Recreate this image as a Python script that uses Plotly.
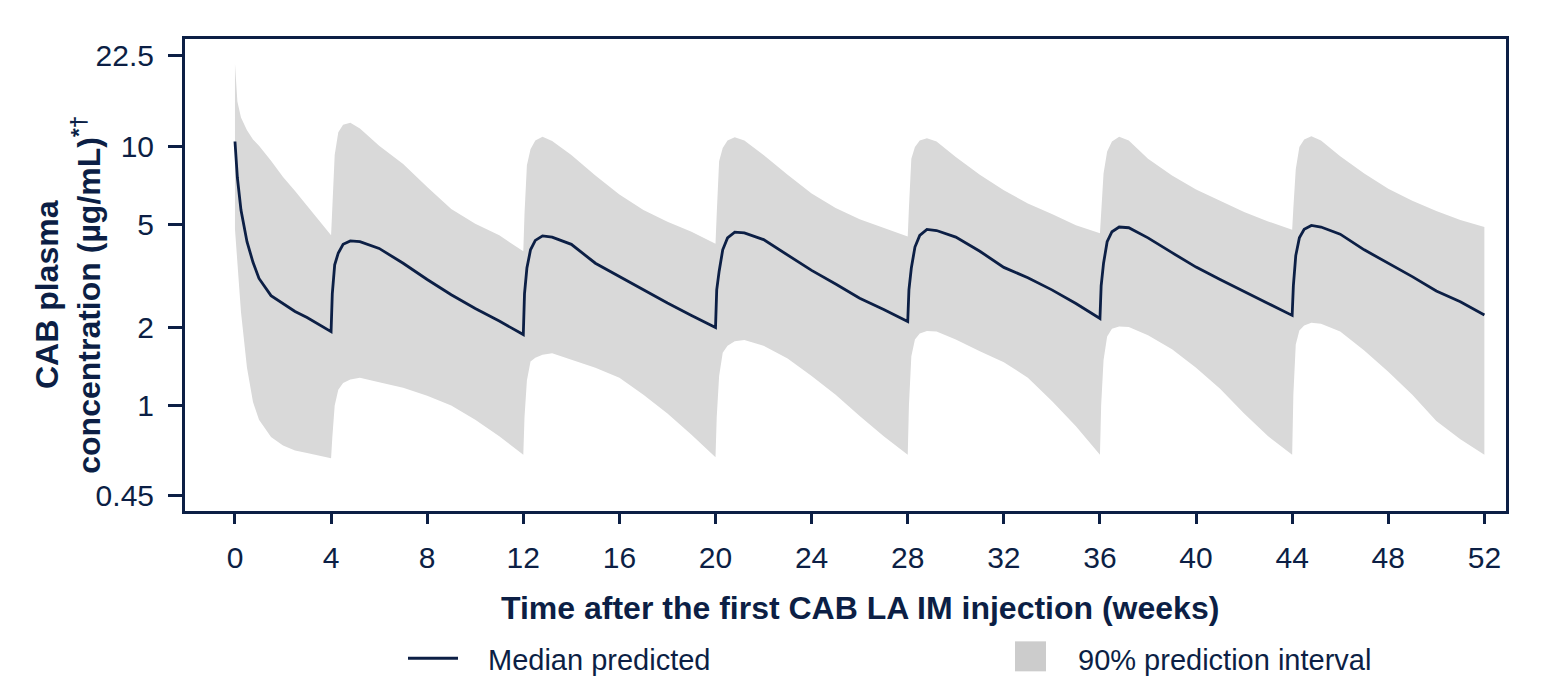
import plotly.graph_objects as go

# ---------------- data ----------------
weeks = [
    0, 0.1, 0.25, 0.5, 0.75, 1, 1.5, 2, 2.5, 3, 3.5, 4,
    4.05, 4.15, 4.3, 4.5, 4.8, 5.2, 6, 7, 8, 9, 10, 11, 12,
    12.05, 12.15, 12.3, 12.5, 12.8, 13.2, 14, 15, 16, 17, 18, 19, 20,
    20.05, 20.15, 20.3, 20.5, 20.8, 21.2, 22, 23, 24, 25, 26, 27, 28,
    28.05, 28.15, 28.3, 28.5, 28.8, 29.2, 30, 31, 32, 33, 34, 35, 36,
    36.05, 36.15, 36.3, 36.5, 36.8, 37.2, 38, 39, 40, 41, 42, 43, 44,
    44.05, 44.15, 44.3, 44.5, 44.8, 45.2, 46, 47, 48, 49, 50, 51, 52,
]

median_pred = [
    10.5, 7.6, 5.7, 4.3, 3.58, 3.1, 2.66, 2.48, 2.31, 2.19, 2.06, 1.93,
    2.7, 3.5, 3.89, 4.2, 4.33, 4.3, 4.05, 3.55, 3.07, 2.68, 2.37, 2.12, 1.88,
    2.7, 3.4, 4.0, 4.35, 4.53, 4.48, 4.2, 3.55, 3.15, 2.8, 2.49, 2.23, 2.0,
    2.8, 3.3, 4.0, 4.45, 4.68, 4.65, 4.38, 3.82, 3.33, 2.95, 2.6, 2.35, 2.11,
    2.8, 3.4, 4.1, 4.55, 4.8, 4.75, 4.48, 3.95, 3.42, 3.12, 2.8, 2.48, 2.17,
    2.9, 3.55, 4.3, 4.7, 4.9, 4.87, 4.45, 3.9, 3.43, 3.07, 2.75, 2.48, 2.23,
    2.9, 3.8, 4.45, 4.8, 4.97, 4.9, 4.6, 4.0, 3.55, 3.15, 2.77, 2.52, 2.24,
]

upper_90 = [
    21.0, 15.0, 13.0, 11.6, 10.7, 10.1, 8.85, 7.65, 6.75, 5.95, 5.2, 4.55,
    6.0, 9.3, 11.4, 12.2, 12.4, 11.8, 10.1, 8.6, 7.0, 5.75, 5.05, 4.55, 3.95,
    5.5, 8.5, 9.8, 10.6, 10.95, 10.55, 9.3, 7.75, 6.55, 5.7, 5.14, 4.7, 4.22,
    5.5, 8.8, 9.9, 10.6, 10.9, 10.6, 9.3, 7.8, 6.6, 5.8, 5.25, 4.86, 4.5,
    5.8, 9.0, 10.0, 10.6, 10.8, 10.5, 9.15, 7.8, 6.8, 6.05, 5.5, 4.98, 4.64,
    5.8, 7.9, 9.6, 10.5, 10.95, 10.6, 9.0, 7.75, 6.85, 6.18, 5.6, 5.15, 4.78,
    5.8, 8.2, 10.0, 10.7, 11.0, 10.6, 9.2, 7.9, 6.9, 6.2, 5.65, 5.22, 4.9,
]

lower_90 = [
    4.8, 3.6, 2.3, 1.4, 1.03, 0.88, 0.755, 0.70, 0.67, 0.655, 0.64, 0.625,
    0.75, 1.0, 1.15, 1.22, 1.26, 1.28, 1.23, 1.17, 1.09, 1.0, 0.88, 0.76, 0.645,
    0.9, 1.25, 1.48, 1.53, 1.57, 1.59, 1.5, 1.4, 1.28, 1.1, 0.93, 0.77, 0.63,
    0.9, 1.3, 1.6, 1.7, 1.77, 1.79, 1.7, 1.52, 1.3, 1.1, 0.91, 0.76, 0.645,
    1.0, 1.55, 1.8, 1.9, 1.94, 1.93, 1.8, 1.62, 1.47, 1.28, 1.04, 0.83, 0.645,
    1.0, 1.5, 1.85, 1.98, 2.02, 2.01, 1.87, 1.65, 1.4, 1.16, 0.93, 0.76, 0.645,
    1.1, 1.72, 1.95, 2.04, 2.09, 2.07, 1.93, 1.63, 1.35, 1.1, 0.87, 0.74, 0.645,
]

x_ticks = [0, 4, 8, 12, 16, 20, 24, 28, 32, 36, 40, 44, 48, 52]
y_ticks = [0.45, 1, 2, 5, 10, 22.5]
y_tick_labels = ["0.45", "1", "2", "5", "10", "22.5"]

legend_labels = ["Median predicted", "90% prediction interval"]

# ---------------- styling ----------------
NAVY = "#0c1f45"
GREY = "#d9d9d9"
OFF = 8                      # default page body margin
W, H = 1563 - OFF, 676 - OFF
# plot area in page pixels: x 185..1506, y 38.5..511.5
L = 185 - OFF
T = 31
R = W - (1506 - OFF)
B = H - (511.5 - OFF)
FONT = "Liberation Sans, Arial, sans-serif"


def px_x(px):
    """page pixel -> paper x"""
    return (px - OFF - L) / (W - L - R)


def px_y(py):
    """page pixel -> paper y"""
    return (H - B - (py - OFF)) / (H - T - B)


fig = go.Figure()

fig.add_trace(go.Scatter(
    x=weeks, y=lower_90, mode="lines", line=dict(width=0, color=GREY),
    showlegend=False, hoverinfo="skip",
))
fig.add_trace(go.Scatter(
    x=weeks, y=upper_90, mode="lines", line=dict(width=0, color=GREY),
    fill="tonexty", fillcolor=GREY, showlegend=False, hoverinfo="skip",
))
fig.add_trace(go.Scatter(
    x=weeks, y=median_pred, mode="lines", line=dict(width=2.8, color=NAVY),
    showlegend=False,
))

fig.update_xaxes(
    range=[-2.08, 52.9], tickmode="array", tickvals=x_ticks,
    ticktext=[str(v) for v in x_ticks],
    showline=True, mirror=True, linewidth=3, linecolor=NAVY,
    ticks="outside", ticklen=10, tickwidth=3, tickcolor=NAVY,
    tickfont=dict(family=FONT, size=30, color=NAVY),
    showgrid=False, zeroline=False, ticklabelstandoff=8,
)
fig.update_yaxes(
    type="log", range=[-0.4085, 1.4178], tickmode="array",
    tickvals=y_ticks, ticktext=y_tick_labels,
    showline=True, mirror=True, linewidth=3, linecolor=NAVY,
    ticks="outside", ticklen=14, tickwidth=3, tickcolor=NAVY,
    tickfont=dict(family=FONT, size=30, color=NAVY),
    showgrid=False, zeroline=False, ticklabelstandoff=8,
)

annotations = [
    dict(text="<b>Time after the first CAB LA IM injection (weeks)</b>",
         x=26, xref="x", y=px_y(609), yref="paper", showarrow=False,
         font=dict(family=FONT, size=32, color=NAVY),
         xanchor="center", yanchor="middle"),
    dict(text="<b>CAB plasma<br>concentration (µg/mL)<sup>*†</sup></b>",
         x=px_x(68), xref="paper", y=px_y(295), yref="paper",
         showarrow=False, textangle=-90,
         font=dict(family=FONT, size=32, color=NAVY),
         xanchor="center", yanchor="middle"),
    dict(text=legend_labels[0], x=px_x(486), xref="paper", y=px_y(661),
         yref="paper", showarrow=False, xanchor="left", yanchor="middle",
         font=dict(family=FONT, size=29, color=NAVY)),
    dict(text=legend_labels[1], x=px_x(1076), xref="paper", y=px_y(661),
         yref="paper", showarrow=False, xanchor="left", yanchor="middle",
         font=dict(family=FONT, size=29, color=NAVY)),
]

shapes = [
    dict(type="line", xref="paper", yref="paper",
         x0=px_x(408), x1=px_x(458), y0=px_y(659), y1=px_y(659),
         line=dict(color=NAVY, width=3)),
    dict(type="rect", xref="paper", yref="paper",
         x0=px_x(1015), x1=px_x(1046), y0=px_y(672), y1=px_y(642),
         fillcolor="#cccccc", line=dict(width=0)),
]

fig.update_layout(
    width=W, height=H,
    margin=dict(l=L, r=R, t=T, b=B, pad=0),
    plot_bgcolor="white", paper_bgcolor="white",
    showlegend=False,
    annotations=annotations, shapes=shapes,
    font=dict(family=FONT, color=NAVY),
)

fig.write_html("out.html")
